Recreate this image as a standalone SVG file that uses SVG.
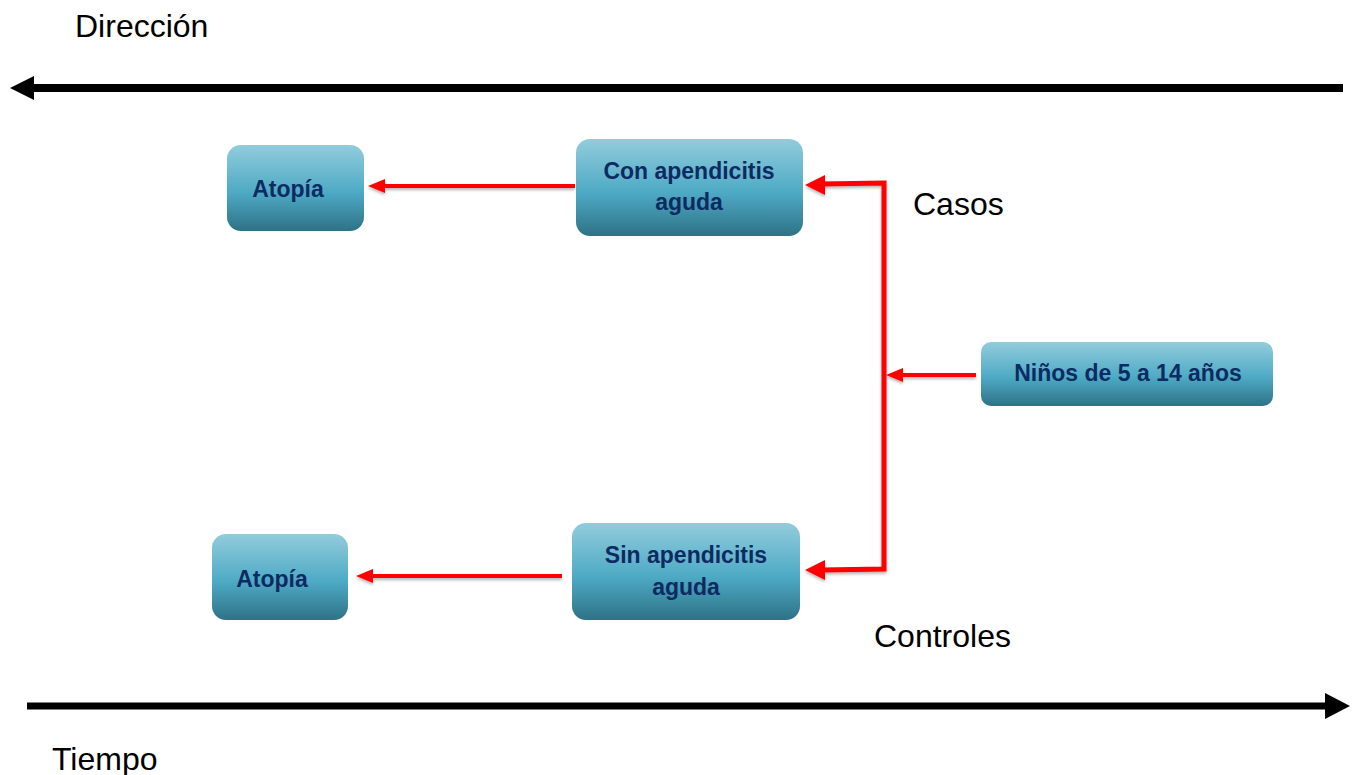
<svg xmlns="http://www.w3.org/2000/svg" width="1357" height="775" viewBox="0 0 1357 775">
<style>
.node rect{fill:url(#g);}
.node text{font-family:"Liberation Sans",Arial,sans-serif;font-weight:bold;font-size:23px;fill:#0d2b63;text-anchor:middle;}
.lbl{font-family:"Liberation Sans",Arial,sans-serif;font-size:32px;fill:#000;}
.red{stroke:#ff0000;fill:none;}
</style>
<defs>
<linearGradient id="g" x1="0" y1="0" x2="0" y2="1">
<stop offset="0" stop-color="#92ccdc"/>
<stop offset="0.55" stop-color="#4eaac5"/>
<stop offset="1" stop-color="#2e7286"/>
</linearGradient>
<filter id="sh" x="-10%" y="-10%" width="120%" height="130%">
<feDropShadow dx="0" dy="2" stdDeviation="1.5" flood-color="#000" flood-opacity="0.3"/>
</filter>
</defs>
<rect width="1357" height="775" fill="#fff"/>
<g id="axes">
<line x1="1343" y1="88" x2="30" y2="88" stroke="#000" stroke-width="8"/>
<polygon points="10,88 34,76 34,100" fill="#000"/>
<line x1="27" y1="706" x2="1330" y2="706" stroke="#000" stroke-width="7"/>
<polygon points="1350,706 1325,693 1325,719" fill="#000"/>
</g>
<g id="connectors" filter="url(#sh)">
<line class="red" x1="575" y1="186" x2="380" y2="186" stroke-width="4"/>
<polygon points="368,186 385,179 385,193" fill="#ff0000"/>
<line class="red" x1="562" y1="576" x2="368" y2="576" stroke-width="4"/>
<polygon points="356,576 373,569 373,583" fill="#ff0000"/>
<polyline class="red" points="820,184 884,183 884,569 822,570" stroke-width="5"/>
<polygon points="805,185 825,175 825,195" fill="#ff0000"/>
<polygon points="805,570 825,560 825,580" fill="#ff0000"/>
<line class="red" x1="976" y1="375" x2="898" y2="375" stroke-width="4"/>
<polygon points="886,375 903,368 903,382" fill="#ff0000"/>
</g>
<g id="atopia1" class="node"><rect x="227" y="145" width="137" height="86" rx="14"/><text x="288" y="197">Atopía</text></g>
<g id="con" class="node"><rect x="576" y="139" width="227" height="97" rx="14"/><text x="689" y="179">Con apendicitis</text><text x="689" y="210">aguda</text></g>
<g id="ninos" class="node"><rect x="981" y="342" width="292" height="64" rx="10"/><text x="1128" y="381">Niños de 5 a 14 años</text></g>
<g id="sin" class="node"><rect x="572" y="523" width="228" height="97" rx="14"/><text x="686" y="563">Sin apendicitis</text><text x="686" y="595">aguda</text></g>
<g id="atopia2" class="node"><rect x="212" y="534" width="136" height="86" rx="14"/><text x="272" y="587">Atopía</text></g>
<text class="lbl" x="75" y="37">Dirección</text>
<text class="lbl" x="913" y="215">Casos</text>
<text class="lbl" x="874" y="647">Controles</text>
<text class="lbl" x="52" y="770">Tiempo</text>
</svg>
